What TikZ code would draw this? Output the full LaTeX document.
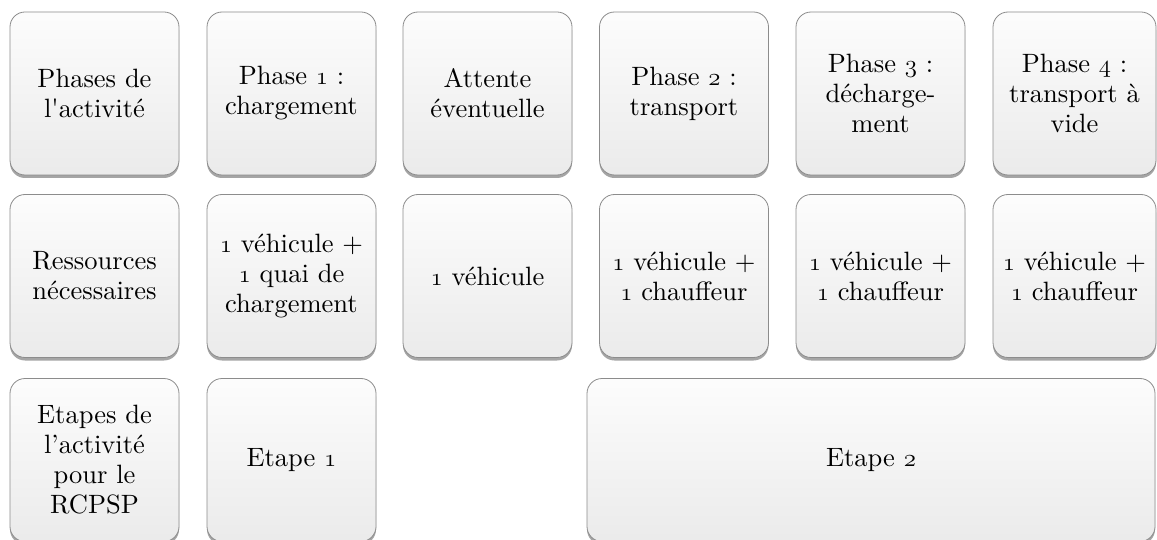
\documentclass[tikz,border=0pt]{standalone}
\usepackage{fontspec}
\setmainfont{lmroman10-regular.otf}
\usetikzlibrary{shadows}
\newcommand\osn[1]{$\mathnormal{#1}$}
\tikzset{
  box/.style={draw=black!45, line width=0.8pt, rounded corners=15pt,
    top color=black!1, bottom color=black!8,
    minimum width=169pt, minimum height=163pt, inner sep=0pt, align=center,
    font=\fontsize{26.5}{30}\selectfont,
    drop shadow={shadow xshift=0pt, shadow yshift=-3pt, opacity=0.5, fill=black!70}}
}
\begin{document}
\begin{tikzpicture}[x=1pt,y=-1pt]
\path[fill=white,use as bounding box] (0,0) rectangle (1157,540);
% row 1
\node[box] (p0) at (94.5,93.5) {Phases de\\l\textquotesingle activité};
\node[box] (p1) at (291.5,93.5) {Phase \osn{1} :\\chargement};
\node[box] (p2) at (487.5,93.5) {Attente\\éventuelle};
\node[box] (p3) at (684,93.5) {Phase \osn{2} :\\transport};
\node[box] (p4) at (880.5,93.5) {Phase \osn{3} :\\décharge-\\ment};
\node[box, minimum width=163pt] (p5) at (1074.5,93.5) {Phase \osn{4} :\\transport à\\vide};
% row 2
\node[box] (r0) at (94.5,276) {Ressources\\nécessaires};
\node[box] (r1) at (291.5,276) {\osn{1} véhicule +\\\osn{1} quai de\\chargement};
\node[box] (r2) at (487.5,276) {\osn{1} véhicule};
\node[box] (r3) at (684,276) {\osn{1} véhicule +\\\osn{1} chauffeur};
\node[box] (r4) at (880.5,276) {\osn{1} véhicule +\\\osn{1} chauffeur};
\node[box, minimum width=163pt] (r5) at (1074.5,276) {\osn{1} véhicule +\\\osn{1} chauffeur};
% row 3
\node[box] (e0) at (94.5,460) {Etapes de\\l’activité\\pour le\\RCPSP};
\node[box] (e1) at (291.5,460) {Etape \osn{1}};
\node[box, minimum width=568pt] (e2) at (871,460) {Etape \osn{2}};
\end{tikzpicture}
\end{document}
